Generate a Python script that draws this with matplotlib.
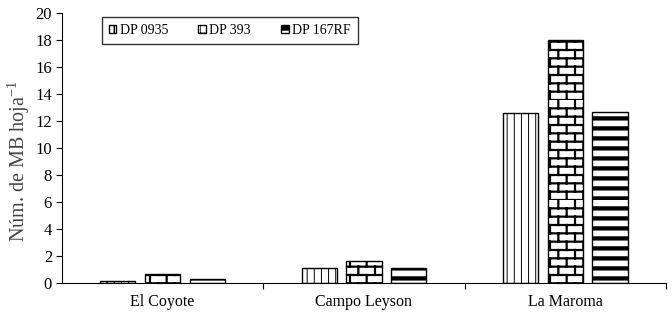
import numpy as np
import matplotlib
matplotlib.use("Agg")
import matplotlib.pyplot as plt
import matplotlib.hatch as mhatch
from matplotlib.path import Path
from matplotlib.ticker import FixedLocator

# ---- data ----
sites = ["El Coyote", "Campo Leyson", "La Maroma"]
series_names = ["DP 0935", "DP 393", "DP 167RF"]
dp0935 = [0.15, 1.1, 12.6]
dp393 = [0.7, 1.6, 18.0]
dp167rf = [0.3, 1.1, 12.7]
y_ticks = [0, 2, 4, 6, 8, 10, 12, 14, 16, 18, 20]


# ---- custom hatches ----
class VLines(mhatch.HatchPatternBase):
    def __init__(self, hatch, density):
        self.n = 14 if 'V' in hatch else 0
        self.num_vertices = self.n * 2

    def set_vertices_and_codes(self, vertices, codes):
        xs = np.arange(self.n) / self.n
        vertices[0::2, 0] = xs
        vertices[0::2, 1] = 0
        vertices[1::2, 0] = xs
        vertices[1::2, 1] = 1
        codes[0::2] = Path.MOVETO
        codes[1::2] = Path.LINETO


class HBands(mhatch.HatchPatternBase):
    # thick horizontal bands made of several close lines
    def __init__(self, hatch, density):
        self.n = 10 if 'H' in hatch else 0
        self.sub = 5
        self.num_vertices = self.n * self.sub * 2

    def set_vertices_and_codes(self, vertices, codes):
        ys = []
        for k in range(self.n):
            for s in range(self.sub):
                ys.append(k / self.n + s * 0.008)
        ys = np.array(ys)
        vertices[0::2, 0] = 0
        vertices[0::2, 1] = ys
        vertices[1::2, 0] = 1
        vertices[1::2, 1] = ys
        codes[0::2] = Path.MOVETO
        codes[1::2] = Path.LINETO


class Bricks(mhatch.HatchPatternBase):
    def __init__(self, hatch, density):
        self.rows = 12 if 'B' in hatch else 0
        self.cols = 6
        if self.rows:
            self.num_vertices = self.rows * 2 + self.rows * self.cols * 2
        else:
            self.num_vertices = 0

    def set_vertices_and_codes(self, vertices, codes):
        v = []
        h = 1.0 / self.rows
        w = 1.0 / self.cols
        for r in range(self.rows):
            y = r * h
            v.append((0, y)); v.append((1, y))
        for r in range(self.rows):
            y0 = r * h
            off = 0 if r % 2 == 0 else w / 2
            for c in range(self.cols):
                xx = c * w + off
                v.append((xx, y0)); v.append((xx, y0 + h))
        v = np.array(v)
        vertices[:] = v
        codes[0::2] = Path.MOVETO
        codes[1::2] = Path.LINETO


mhatch._hatch_types.extend([VLines, HBands, Bricks])

plt.rcParams['font.family'] = ['Liberation Serif', 'DejaVu Serif']
plt.rcParams['mathtext.fontset'] = 'custom'
plt.rcParams['mathtext.rm'] = 'Liberation Serif'

fig = plt.figure(figsize=(6.72, 3.14), dpi=100)
ax = fig.add_axes([0.092, 0.0987, 0.899, 0.86])

x = np.arange(len(sites))
width = 0.175
step = 0.222
hatches = ['V', 'B', 'H']
hlw = [0.7, 1.6, 0.8]
for i, (vals, name) in enumerate(zip([dp0935, dp393, dp167rf], series_names)):
    with plt.rc_context({'hatch.linewidth': hlw[i], 'hatch.color': 'black'}):
        bars = ax.bar(x + (i - 1) * step, vals, width, facecolor='white',
                      edgecolor='black', linewidth=1.0, hatch=hatches[i], label=name)
        for b in bars:
            if hasattr(b, 'set_hatch_linewidth'):
                b.set_hatch_linewidth(hlw[i])

ax.set_xlim(-0.5, 2.5)
ax.set_ylim(0, 20)
ax.set_yticks(y_ticks)
ax.set_xticks(x)
ax.set_xticklabels(sites)
ax.xaxis.set_minor_locator(FixedLocator([0.5, 1.5, 2.5]))
ax.tick_params(axis='x', which='major', length=0, labelsize=11.5, pad=8)
ax.tick_params(axis='x', which='minor', length=4, direction='out', width=0.8)
ax.tick_params(axis='y', labelsize=12, length=4, direction='out', width=0.8, pad=3)
for s in ['top', 'right']:
    ax.spines[s].set_visible(False)
ax.spines['left'].set_linewidth(0.8)
ax.spines['bottom'].set_linewidth(0.8)
ax.set_ylabel('Núm. de MB hoja$^{\\mathregular{-1}}$', fontsize=14.5, color='#444444')
ax.yaxis.set_label_coords(-0.049, 0.45)

leg = ax.legend(ncol=3, loc='upper left', bbox_to_anchor=(0.066, 0.2, 0.424, 0.785),
                mode='expand', borderaxespad=0,
                fontsize=10, frameon=True, fancybox=False, edgecolor='black',
                handlelength=0.55, handleheight=0.55, handletextpad=0.25,
                columnspacing=1.4, borderpad=0.5)
leg.get_frame().set_linewidth(1.0)

fig.savefig('out.png', dpi=100)
